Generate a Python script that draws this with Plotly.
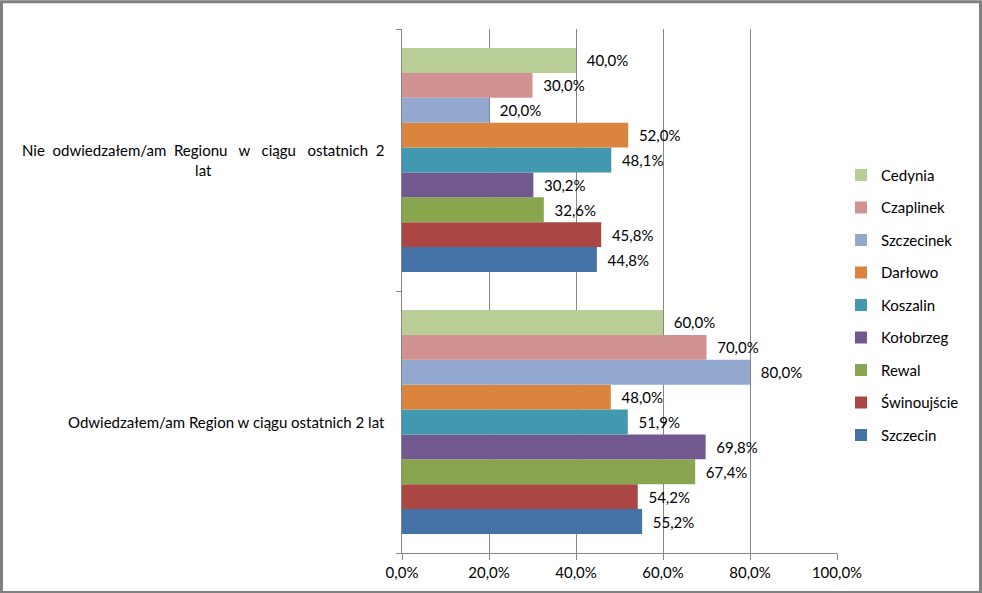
import plotly.graph_objects as go

categories = [
    "Nie odwiedzałem/am Regionu w ciągu ostatnich 2 lat",
    "Odwiedzałem/am Region w ciągu ostatnich 2 lat",
]
category_labels = [
    "Nie\u00a0 odwiedzałem/am\u00a0 Regionu\u00a0\u00a0 w\u00a0\u00a0 ciągu\u00a0\u00a0 ostatnich\u00a0 2<br>lat",
    "Odwiedzałem/am Region w ciągu ostatnich 2 lat",
]
series_names = ["Cedynia", "Czaplinek", "Szczecinek", "Darłowo", "Koszalin",
                "Kołobrzeg", "Rewal", "Świnoujście", "Szczecin"]
nie_values = [40.0, 30.0, 20.0, 52.0, 48.1, 30.2, 32.6, 45.8, 44.8]
odw_values = [60.0, 70.0, 80.0, 48.0, 51.9, 69.8, 67.4, 54.2, 55.2]
colors = ["#B9CD96", "#D19392", "#93A9CF", "#DB843D", "#4198AF",
          "#71588F", "#89A54E", "#AA4643", "#4572A7"]
x_ticks = [0, 20, 40, 60, 80, 100]
x_tick_labels = [f"{v:.1f}%".replace(".", ",") for v in x_ticks]

FONT = "Lato"
W, H = 982, 593
ML, MR, MT, MB = 402, 145, 29, 35
PW, PH = W - ML - MR, H - MT - MB

fig = go.Figure()
# add bottom-most series first so that Cedynia ends up on top of each group
for i in reversed(range(len(series_names))):
    fig.add_trace(go.Bar(
        y=categories,
        x=[nie_values[i], odw_values[i]],
        name=series_names[i],
        orientation="h",
        legendgroup=series_names[i],
        legendrank=i + 1,
        marker=dict(color=colors[i], line=dict(width=0)),
        texttemplate="\u00a0\u00a0%{x:.1f}%",
        textposition="outside",
        constraintext="none",
        cliponaxis=False,
        textfont=dict(family=FONT, size=15, color="#000000"),
        hoverinfo="skip",
    ))

for cat, lab in zip(categories, category_labels):
    fig.add_annotation(
        x=-15 / PW, xref="paper", xanchor="right",
        y=cat, yref="y", yanchor="middle",
        text=lab, showarrow=False, align="center",
        font=dict(family=FONT, size=15, color="#000000"),
    )

# outer frame of the chart
fig.add_shape(
    type="rect", xref="paper", yref="paper",
    x0=(-ML + 1.5) / PW, x1=(W - ML - 1.5) / PW,
    y0=(-MB - 5) / PH, y1=(PH + MT - 1.5) / PH,
    line=dict(color="#808080", width=3), fillcolor="rgba(0,0,0,0)",
    layer="above",
)

fig.update_layout(
    width=W, height=H,
    margin=dict(l=ML, r=MR, t=MT, b=MB),
    paper_bgcolor="white", plot_bgcolor="white",
    barmode="group", bargap=0.145, bargroupgap=0,
    separators=", ",
    font=dict(family=FONT, size=15, color="#000000"),
    showlegend=True,
    legend=dict(
        x=(841 - ML) / PW, xanchor="left",
        y=(PH - (160 - MT)) / PH, yanchor="top",
        traceorder="grouped", tracegroupgap=10,
        font=dict(family=FONT, size=15, color="#000000"),
        bgcolor="rgba(0,0,0,0)",
    ),
    xaxis=dict(
        range=[0, 100], tickvals=x_ticks, ticktext=x_tick_labels,
        showgrid=True, gridcolor="#868686", gridwidth=1,
        showline=True, linecolor="#868686", linewidth=1,
        ticks="outside", ticklen=6, tickcolor="#868686",
        zeroline=False, tickfont=dict(family=FONT, size=15, color="#000000"),
        fixedrange=True,
    ),
    yaxis=dict(
        type="category", categoryorder="array",
        categoryarray=list(reversed(categories)),
        showticklabels=False, showgrid=False, zeroline=False,
        showline=True, linecolor="#868686", linewidth=1,
        ticks="outside", ticklen=5, tickcolor="#868686", tickson="boundaries",
        fixedrange=True,
    ),
)

fig.write_html(
    "out.html",
    config={"displayModeBar": False},
    post_script="document.body.style.margin='0';",
)
